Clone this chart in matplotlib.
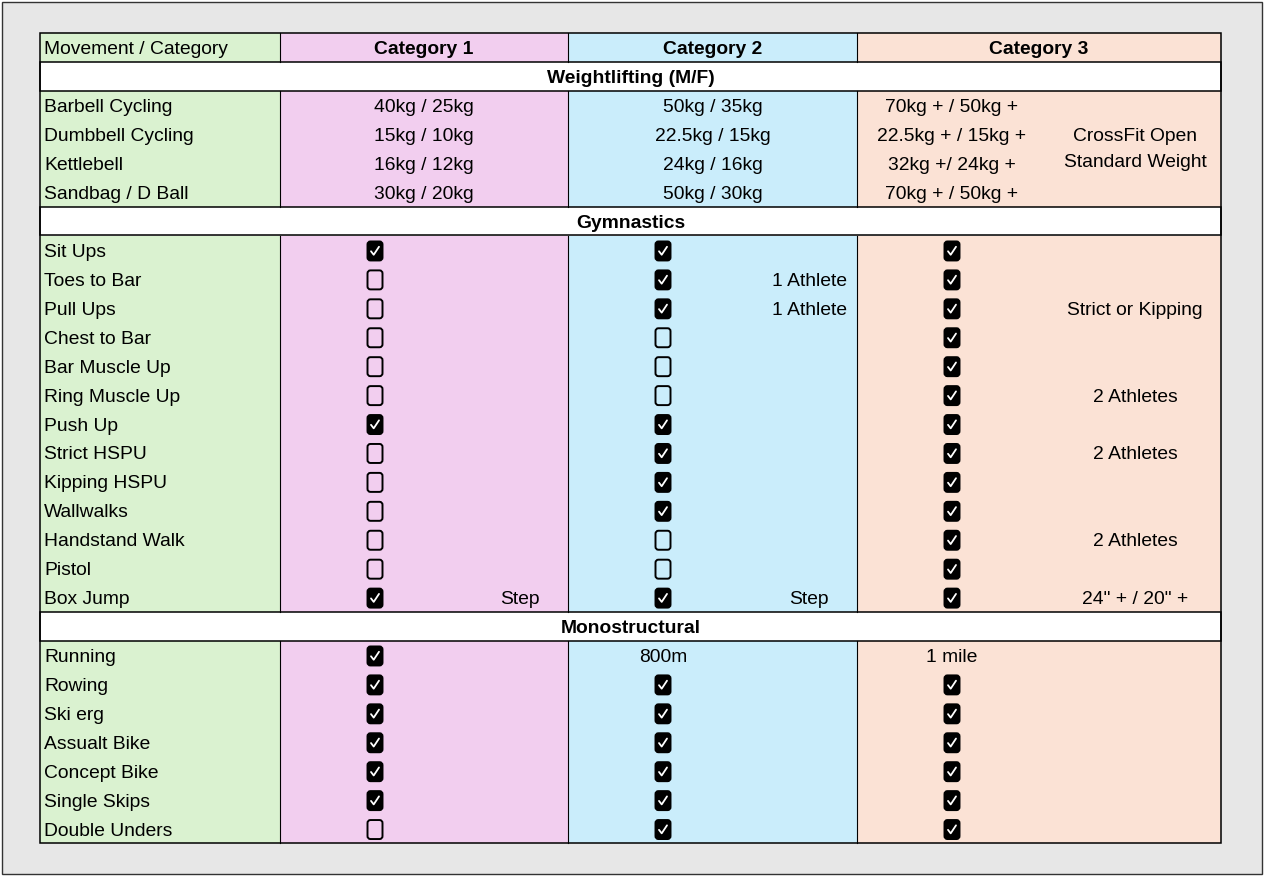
"""Recreate the movement / category standards table."""
import matplotlib
matplotlib.use('Agg')
import matplotlib.pyplot as plt
import matplotlib.patches as mpatches

plt.rcParams['font.family'] = ['Liberation Sans', 'DejaVu Sans']

# ---- data ----
header = ['Movement / Category', 'Category 1', 'Category 2', 'Category 3']

weight_title = 'Weightlifting (M/F)'
weight_moves = ['Barbell Cycling', 'Dumbbell Cycling', 'Kettlebell', 'Sandbag / D Ball']
weight_cat1 = ['40kg / 25kg', '15kg / 10kg', '16kg / 12kg', '30kg / 20kg']
weight_cat2 = ['50kg / 35kg', '22.5kg / 15kg', '24kg / 16kg', '50kg / 30kg']
weight_cat3 = ['70kg + / 50kg +', '22.5kg + / 15kg +', '32kg +/ 24kg +', '70kg + / 50kg +']
weight_note3 = ['CrossFit Open', 'Standard Weight']

gym_title = 'Gymnastics'
gym_moves = ['Sit Ups', 'Toes to Bar', 'Pull Ups', 'Chest to Bar', 'Bar Muscle Up',
             'Ring Muscle Up', 'Push Up', 'Strict HSPU', 'Kipping HSPU', 'Wallwalks',
             'Handstand Walk', 'Pistol', 'Box Jump']
gym_cat1 = [1, 0, 0, 0, 0, 0, 1, 0, 0, 0, 0, 0, 1]
gym_cat2 = [1, 1, 1, 0, 0, 0, 1, 1, 1, 1, 0, 0, 1]
gym_cat3 = [1, 1, 1, 1, 1, 1, 1, 1, 1, 1, 1, 1, 1]
gym_note1 = ['', '', '', '', '', '', '', '', '', '', '', '', 'Step']
gym_note2 = ['', '1 Athlete', '1 Athlete', '', '', '', '', '', '', '', '', '', 'Step']
gym_note3 = ['', '', 'Strict or Kipping', '', '', '2 Athletes', '', '2 Athletes', '',
             '', '2 Athletes', '', '24" + / 20" +']

mono_title = 'Monostructural'
mono_moves = ['Running', 'Rowing', 'Ski erg', 'Assualt Bike', 'Concept Bike',
              'Single Skips', 'Double Unders']
mono_cat1 = [1, 1, 1, 1, 1, 1, 0]
mono_cat2 = ['800m', 1, 1, 1, 1, 1, 1]
mono_cat3 = ['1 mile', 1, 1, 1, 1, 1, 1]

# ---- layout ----
W, H = 1264, 877
fig = plt.figure(figsize=(W / 100, H / 100), dpi=100)
ax = fig.add_axes([0, 0, 1, 1])
ax.set_xlim(0, W)
ax.set_ylim(H, 0)
ax.axis('off')

col_x = [40, 280, 568, 857, 1221]
col_colors = ['#daf2d0', '#f2ceef', '#caedfb', '#fbe2d5']
check_x = [375, 663, 952]
note_x = [520, 809, 1135]
top, bottom = 33, 843
n_rows = 1 + 1 + len(weight_moves) + 1 + len(gym_moves) + 1 + len(mono_moves)
rh = (bottom - top) / n_rows
FS = 13.9
TDY = 2.5  # text sits a little low in its cell

ax.add_patch(mpatches.Rectangle((2, 2), W - 4, H - 5, fc='#e7e7e7', ec='#333333', lw=1))


def row_y(i):
    return top + rh * i


def cell_row(i):
    for c in range(4):
        ax.add_patch(mpatches.Rectangle((col_x[c], row_y(i)), col_x[c + 1] - col_x[c], rh,
                                        fc=col_colors[c], ec='none', zorder=1))


def checkbox(x, y, checked):
    w, h = 13, 17
    ax.add_patch(mpatches.FancyBboxPatch((x - w / 2, y - h / 2), w, h,
                                         boxstyle='round,pad=1,rounding_size=3',
                                         fc='black' if checked else 'none',
                                         ec='black', lw=1.4, zorder=3))
    if checked:
        ax.plot([x - 4, x - 1.3, x + 4], [y + 0.3, y + 3.8, y - 4.2],
                color='white', lw=1.3, zorder=4, solid_capstyle='round')


def value(c, y, v):
    if isinstance(v, str):
        ax.text(check_x[c], y + TDY, v, ha='center', va='center', fontsize=FS, zorder=5)
    else:
        checkbox(check_x[c], y + 1, bool(v))


def section(i, title):
    ax.add_patch(mpatches.Rectangle((col_x[0], row_y(i)), col_x[-1] - col_x[0], rh,
                                    fc='white', ec='black', lw=1.1, zorder=2))
    ax.text((col_x[0] + col_x[-1]) / 2, row_y(i) + rh / 2 + TDY, title, ha='center',
            va='center', fontsize=FS, fontweight='bold', zorder=5)


# header
cell_row(0)
yc = row_y(0) + rh / 2 + TDY
ax.text(col_x[0] + 4, yc, header[0], ha='left', va='center', fontsize=FS, zorder=5)
for c in range(1, 4):
    ax.text((col_x[c] + col_x[c + 1]) / 2, yc, header[c], ha='center', va='center',
            fontsize=FS, fontweight='bold', zorder=5)

r = 1
section(r, weight_title)
r += 1
wl_start = r
for k, mv in enumerate(weight_moves):
    cell_row(r)
    yc = row_y(r) + rh / 2 + TDY
    ax.text(col_x[0] + 4, yc, mv, ha='left', va='center', fontsize=FS, zorder=5)
    ax.text((col_x[1] + col_x[2]) / 2, yc, weight_cat1[k], ha='center', va='center', fontsize=FS, zorder=5)
    ax.text((col_x[2] + col_x[3]) / 2, yc, weight_cat2[k], ha='center', va='center', fontsize=FS, zorder=5)
    ax.text(check_x[2], yc, weight_cat3[k], ha='center', va='center', fontsize=FS, zorder=5)
    r += 1
mid = row_y(wl_start) + rh * len(weight_moves) / 2 + 1
ax.text(note_x[2], mid - 13, weight_note3[0], ha='center', va='center', fontsize=FS, zorder=5)
ax.text(note_x[2], mid + 13, weight_note3[1], ha='center', va='center', fontsize=FS, zorder=5)

section(r, gym_title)
r += 1
for k, mv in enumerate(gym_moves):
    cell_row(r)
    yc = row_y(r) + rh / 2
    ax.text(col_x[0] + 4, yc + TDY, mv, ha='left', va='center', fontsize=FS, zorder=5)
    for c, vals in enumerate([gym_cat1, gym_cat2, gym_cat3]):
        value(c, yc, vals[k])
    for c, notes in enumerate([gym_note1, gym_note2, gym_note3]):
        if notes[k]:
            ax.text(note_x[c], yc + TDY, notes[k], ha='center', va='center', fontsize=FS, zorder=5)
    r += 1

section(r, mono_title)
r += 1
for k, mv in enumerate(mono_moves):
    cell_row(r)
    yc = row_y(r) + rh / 2
    ax.text(col_x[0] + 4, yc + TDY, mv, ha='left', va='center', fontsize=FS, zorder=5)
    for c, vals in enumerate([mono_cat1, mono_cat2, mono_cat3]):
        value(c, yc, vals[k])
    r += 1

# grid lines: vertical column dividers (sections break them)
section_rows = [1, 2 + len(weight_moves), 3 + len(weight_moves) + len(gym_moves)]
bounds = [0] + sum([[s, s + 1] for s in section_rows], []) + [n_rows]
for a, b in zip(bounds[::2], bounds[1::2]):
    for x in col_x[1:-1]:
        ax.plot([x, x], [row_y(a), row_y(b)], color='black', lw=0.8, zorder=3)
ax.add_patch(mpatches.Rectangle((col_x[0], top), col_x[-1] - col_x[0], bottom - top,
                                fc='none', ec='black', lw=1.1, zorder=6))

fig.savefig('out.png', dpi=100)
plt.close(fig)
